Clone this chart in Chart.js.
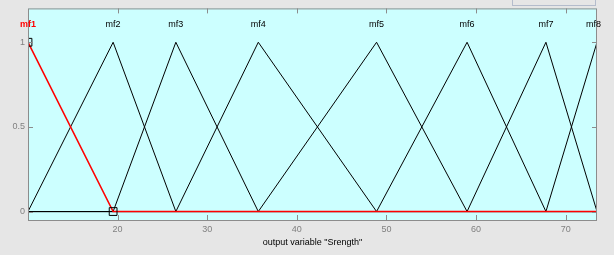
<!DOCTYPE html>
<html lang="en">
<head>
    <meta charset="UTF-8">
    <script src="https://cdn.jsdelivr.net/npm/chart.js"></script>
    <style>
        body {
            margin: 0;
            background: #e6e6e6;
        }
        #wrap {
            position: relative;
            width: 614px;
            height: 255px;
            overflow: hidden;
        }
        #topBox {
            position: absolute;
            left: 512px;
            top: -10px;
            width: 82px;
            height: 14px;
            border: 1px solid #b4bccc;
        }
    </style>
    <title>Srength</title>
</head>
<body>
<div id="wrap">
    <canvas id="mfChart" width="614" height="255"></canvas>
    <div id="topBox"></div>
</div>
<script>
    // membership functions: left foot, peak, right foot
    var mfNames = ['mf1', 'mf2', 'mf3', 'mf4', 'mf5', 'mf6', 'mf7', 'mf8'];
    var mfLeft  = [0,    10,   19.5, 26.5, 35.7, 48.9, 59,   67.8];
    var mfPeak  = [10,   19.5, 26.5, 35.7, 48.9, 59,   67.8, 73.5];
    var mfRight = [19.5, 26.5, 35.7, 48.9, 59,   67.8, 73.5, 80];

    var xRange = [10, 73.5];
    var yRange = [-0.05, 1.2];
    var xTicks = [20, 30, 40, 50, 60, 70];
    var yTicks = [0, 0.5, 1];
    var xLabel = 'output variable "Srength"';
    var selected = 0;

    function mfPoints(i) {
        let pts = [];
        if (mfLeft[i] > xRange[0]) pts.push({x: xRange[0], y: 0});
        pts.push({x: mfLeft[i], y: 0});
        pts.push({x: mfPeak[i], y: 1});
        pts.push({x: mfRight[i], y: 0});
        if (mfRight[i] < xRange[1]) pts.push({x: xRange[1], y: 0});
        return pts;
    }

    var datasets = [];
    for (let i = 0; i < mfNames.length; i++) {
        let pts = mfPoints(i);
        let sel = (i === selected);
        datasets.push({
            label: mfNames[i],
            data: pts,
            borderColor: sel ? '#ff0000' : '#000000',
            borderWidth: sel ? 1.6 : 1,
            pointStyle: 'rect',
            pointRadius: pts.map(p => (sel && (p.x === mfPeak[i] || p.x === mfRight[i]) && p.x < xRange[1]) ? 5.5 : 0),
            pointBorderColor: '#000000',
            pointBorderWidth: 1,
            pointBackgroundColor: 'rgba(0,0,0,0)',
            tension: 0,
            clip: 0
        });
    }

    const areaPlugin = {
        id: 'areaPlugin',
        beforeDraw(chart) {
            const a = chart.chartArea;
            const c = chart.ctx;
            c.save();
            c.fillStyle = '#ccffff';
            c.fillRect(a.left, a.top, a.right - a.left, a.bottom - a.top);
            c.restore();
        },
        afterDraw(chart) {
            const a = chart.chartArea;
            const c = chart.ctx;
            const xs = chart.scales.x;
            const ys = chart.scales.y;
            c.save();
            c.strokeStyle = '#8c8c8c';
            c.lineWidth = 1;
            c.strokeRect(a.left + 0.5, a.top + 0.5, a.right - a.left - 1, a.bottom - a.top);
            c.beginPath();
            xTicks.forEach(v => {
                let px = Math.round(xs.getPixelForValue(v)) + 0.5;
                c.moveTo(px, a.bottom); c.lineTo(px, a.bottom - 5);
                c.moveTo(px, a.top); c.lineTo(px, a.top + 5);
            });
            yTicks.forEach(v => {
                let py = Math.round(ys.getPixelForValue(v)) + 0.5;
                c.moveTo(a.left, py); c.lineTo(a.left + 5, py);
                c.moveTo(a.right, py); c.lineTo(a.right - 5, py);
            });
            c.stroke();

            // mf names above the peaks
            c.textAlign = 'center';
            c.textBaseline = 'middle';
            for (let i = 0; i < mfNames.length; i++) {
                let sel = (i === selected);
                c.font = (sel ? 'bold ' : '') + '9px "Liberation Sans", Arial, sans-serif';
                c.fillStyle = sel ? '#ff0000' : '#000000';
                let w = c.measureText(mfNames[i]).width;
                let px = xs.getPixelForValue(mfPeak[i]);
                if (px + w / 2 > a.right + 4) px = a.right + 4 - w / 2;
                c.fillText(mfNames[i], px, 25);
            }
            c.restore();
        }
    };

    const ctx = document.getElementById('mfChart');
    var chart = new Chart(ctx, {
        type: 'line',
        data: { datasets: datasets },
        options: {
            responsive: false,
            animation: false,
            layout: { padding: { left: 0, right: 17, top: 8, bottom: 0 } },
            plugins: {
                legend: { display: false },
                tooltip: { enabled: false }
            },
            scales: {
                x: {
                    type: 'linear',
                    min: xRange[0],
                    max: xRange[1],
                    grid: { display: false, drawTicks: false },
                    border: { display: false },
                    afterBuildTicks: s => { s.ticks = xTicks.map(v => ({value: v})); },
                    afterFit: s => { s.height = 35; },
                    ticks: {
                        color: '#808080',
                        padding: 4,
                        callback: v => String(v),
                        font: { size: 9, family: '"Liberation Sans", Arial, sans-serif' }
                    },
                    title: {
                        display: true,
                        text: xLabel,
                        color: '#000000',
                        padding: { top: 0, bottom: 7 },
                        font: { size: 9, family: '"Liberation Sans", Arial, sans-serif' }
                    }
                },
                y: {
                    type: 'linear',
                    min: yRange[0],
                    max: yRange[1],
                    grid: { display: false, drawTicks: false },
                    border: { display: false },
                    afterBuildTicks: s => { s.ticks = yTicks.map(v => ({value: v})); },
                    afterFit: s => { s.width = 28; },
                    ticks: {
                        color: '#808080',
                        padding: 3,
                        callback: v => String(v),
                        font: { size: 9, family: '"Liberation Sans", Arial, sans-serif' }
                    }
                }
            }
        },
        plugins: [areaPlugin]
    });
</script>
</body>
</html>
